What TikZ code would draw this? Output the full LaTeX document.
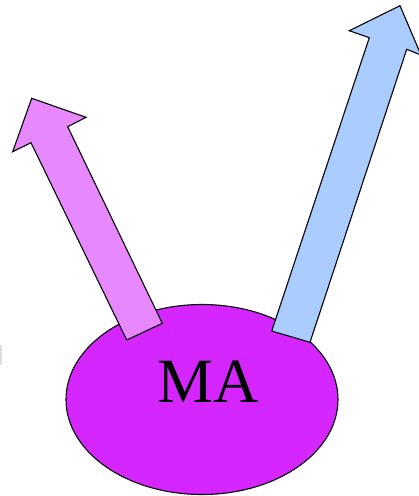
\documentclass[tikz,border=0pt]{standalone}
\usepackage{fontspec}
\setmainfont{Liberation Serif}
\usetikzlibrary{shapes.geometric}
\definecolor{ellfill}{RGB}{213,38,255}
\definecolor{pinkarrow}{RGB}{232,136,255}
\definecolor{bluearrow}{RGB}{170,204,255}
\begin{document}
\begin{tikzpicture}[x=1pt,y=-1pt,
  outline/.style={draw=black,line width=1.1pt,line join=miter},
  blob/.style={ellipse,outline,fill=ellfill,inner sep=0pt,minimum width=272pt,minimum height=190pt},
  bigarrow/.style={outline}]
\useasboundingbox (0,0) rectangle (419,496);
\fill[black!13] (0,345) rectangle (2,365);
\node[blob] (ma) at (202,399.5) {};
\node[inner sep=0pt,font=\fontsize{63}{63}\selectfont] (malabel) at (208,382) {MA};
\draw[bigarrow,fill=pinkarrow] (31.7,98.3) -- (86,117.3) -- (67.7,126.7) -- (162.3,323.3)
  -- (126.7,340) -- (31,142.7) -- (12.7,151.7) -- cycle;
\draw[bigarrow,fill=bluearrow] (400,5.7) -- (421,55) -- (406.7,49.3) -- (310,342.3)
  -- (271.7,331) -- (369.3,37.7) -- (349.3,30.7) -- cycle;
\end{tikzpicture}
\end{document}
